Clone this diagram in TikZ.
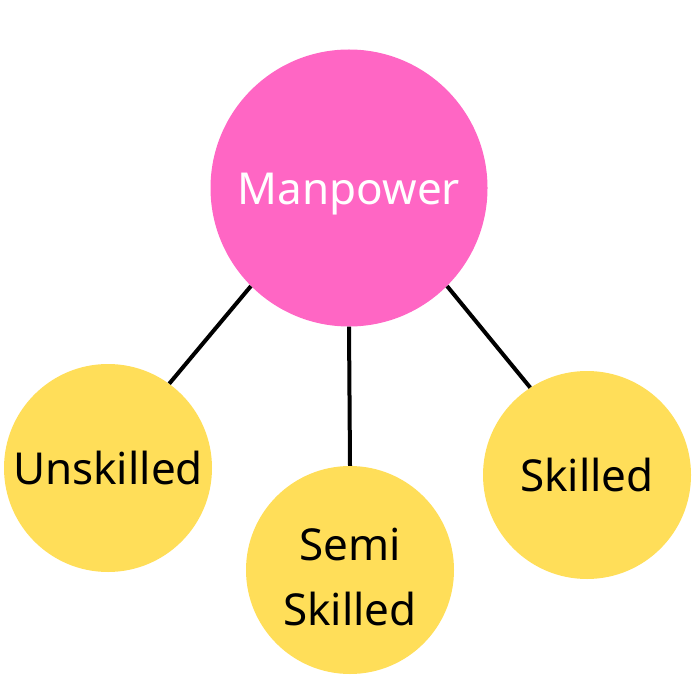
\documentclass[tikz,border=0pt]{standalone}
\usepackage{fontspec}
\setmainfont{Noto Sans}
\definecolor{pinkc}{HTML}{FF66C4}
\definecolor{yellowc}{HTML}{FFDE59}
\newcommand{\lowerby}[2]{\raisebox{-#1}[\height][\depth]{#2}}
\begin{document}
\begin{tikzpicture}[x=1pt,y=-1pt,
  hub/.style={circle,fill=pinkc,minimum size=277pt,inner sep=0pt,text=white,font=\fontsize{44}{50}\selectfont},
  leaf/.style={circle,fill=yellowc,minimum size=208pt,inner sep=0pt,text=black,align=center,font=\fontsize{44}{65}\selectfont},
  link/.style={line width=4pt,black}]
\useasboundingbox (0,0) rectangle (700,700);
\node[hub] (m) at (349,188) {\lowerby{6pt}{Manpower}};
\node[leaf] (u) at (108,468) {Unskilled};
\node[leaf] (s) at (350,570) {\lowerby{7pt}{Semi}\\\lowerby{7pt}{Skilled}};
\node[leaf] (k) at (587,475) {Skilled};
\draw[link] (m.225) -- (u.54);
\draw[link] (m.south) -- (s.north);
\draw[link] (m.315) -- (k.123);
\end{tikzpicture}
\end{document}
